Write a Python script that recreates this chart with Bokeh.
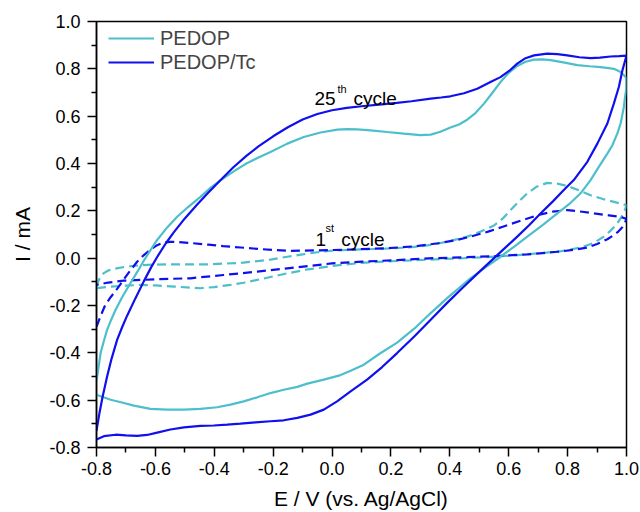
from bokeh.plotting import figure
from bokeh.models import Range1d, Legend, LegendItem, Label, FixedTicker, NumeralTickFormatter
from bokeh.embed import file_html
from bokeh.resources import INLINE

# ---------------- data (E / V vs Ag/AgCl, I / mA) ----------------
# PEDOP/Tc, 25th cycle (solid, blue): forward scan then reverse scan
tc25_E = [-0.80, -0.79, -0.78, -0.764, -0.75, -0.73, -0.713, -0.696, -0.668, -0.639,
          -0.615, -0.594, -0.565, -0.537, -0.50, -0.458, -0.424, -0.381, -0.336, -0.291,
          -0.25, -0.20, -0.15, -0.10, -0.05, 0.0, 0.05, 0.10, 0.16, 0.22,
          0.27, 0.335, 0.37, 0.402, 0.448, 0.493, 0.538, 0.572, 0.606, 0.629,
          0.657, 0.686, 0.731, 0.765, 0.799, 0.84, 0.878, 0.91, 0.946, 0.975, 1.00,
          0.986, 0.974, 0.957, 0.935, 0.901, 0.867, 0.821, 0.787, 0.75, 0.708,
          0.67, 0.629, 0.595, 0.561, 0.50, 0.448, 0.39, 0.335, 0.28, 0.221,
          0.17, 0.119, 0.063, 0.017, -0.028, -0.073, -0.118, -0.164, -0.209, -0.26,
          -0.311, -0.356, -0.402, -0.447, -0.503, -0.549, -0.594, -0.628, -0.662, -0.70,
          -0.735, -0.775, -0.80]
tc25_I = [-0.73, -0.655, -0.59, -0.50, -0.43, -0.345, -0.292, -0.243, -0.17, -0.097,
          -0.04, 0.005, 0.062, 0.11, 0.168, 0.227, 0.272, 0.327, 0.383, 0.432,
          0.472, 0.515, 0.553, 0.586, 0.609, 0.625, 0.635, 0.642, 0.649, 0.656,
          0.663, 0.674, 0.679, 0.684, 0.697, 0.716, 0.744, 0.765, 0.796, 0.822,
          0.845, 0.857, 0.864, 0.862, 0.857, 0.849, 0.845, 0.847, 0.852, 0.854, 0.856,
          0.793, 0.723, 0.653, 0.569, 0.484, 0.407, 0.33, 0.288, 0.24, 0.189,
          0.14, 0.091, 0.052, 0.013, -0.058, -0.12, -0.19, -0.26, -0.33, -0.401,
          -0.46, -0.513, -0.563, -0.605, -0.64, -0.661, -0.675, -0.685, -0.689, -0.694,
          -0.699, -0.703, -0.707, -0.709, -0.715, -0.724, -0.737, -0.747, -0.751, -0.749,
          -0.746, -0.752, -0.766]

# PEDOP, 25th cycle (solid, cyan)
p25_E = [-0.80, -0.793, -0.786, -0.775, -0.764, -0.75, -0.735, -0.713, -0.685, -0.66,
         -0.639, -0.615, -0.594, -0.56, -0.526, -0.49, -0.447, -0.41, -0.368, -0.33,
         -0.291, -0.25, -0.209, -0.152, -0.096, -0.039, 0.018, 0.05, 0.086, 0.131,
         0.187, 0.244, 0.30, 0.335, 0.368, 0.402, 0.431, 0.459, 0.487, 0.516,
         0.544, 0.572, 0.601, 0.629, 0.657, 0.686, 0.715, 0.742, 0.79, 0.833,
         0.875, 0.912, 0.94, 0.957, 0.97, 0.98, 0.99, 1.00,
         1.00, 0.995, 0.991, 0.985, 0.98, 0.969, 0.952, 0.935, 0.906, 0.878,
         0.844, 0.805, 0.765, 0.715, 0.663, 0.62, 0.572, 0.52, 0.47, 0.39,
         0.335, 0.28, 0.221, 0.16, 0.108, 0.063, 0.029, -0.028, -0.084, -0.118,
         -0.164, -0.209, -0.254, -0.30, -0.345, -0.39, -0.447, -0.503, -0.56, -0.617,
         -0.673, -0.707, -0.752, -0.80]
p25_I = [-0.52, -0.46, -0.401, -0.35, -0.303, -0.26, -0.218, -0.165, -0.106, -0.055,
         -0.01, 0.037, 0.077, 0.13, 0.175, 0.215, 0.259, 0.30, 0.338, 0.37,
         0.40, 0.425, 0.449, 0.484, 0.512, 0.531, 0.543, 0.545, 0.544, 0.54,
         0.533, 0.526, 0.52, 0.522, 0.534, 0.552, 0.565, 0.585, 0.613, 0.653,
         0.698, 0.744, 0.784, 0.812, 0.83, 0.839, 0.84, 0.837, 0.826, 0.816,
         0.811, 0.807, 0.803, 0.80, 0.793, 0.786, 0.775, 0.76,
         0.72, 0.68, 0.639, 0.60, 0.569, 0.527, 0.477, 0.442, 0.386, 0.33,
         0.274, 0.228, 0.189, 0.14, 0.091, 0.05, 0.006, -0.04, -0.085, -0.17,
         -0.232, -0.297, -0.357, -0.405, -0.45, -0.476, -0.494, -0.513, -0.53, -0.544,
         -0.556, -0.57, -0.588, -0.605, -0.619, -0.63, -0.637, -0.64, -0.64, -0.637,
         -0.623, -0.612, -0.598, -0.577]

# PEDOP/Tc, 1st cycle (dashed, blue)
tc1_E = [-0.80, -0.787, -0.77, -0.752, -0.73, -0.713, -0.69, -0.662, -0.64, -0.615,
         -0.594, -0.575, -0.55, -0.52, -0.48, -0.42, -0.37, -0.31, -0.25, -0.15,
         -0.04, 0.08, 0.19, 0.28, 0.36, 0.42, 0.47, 0.53, 0.58, 0.64,
         0.70, 0.75, 0.80, 0.85, 0.89, 0.94, 0.98, 1.00,
         0.995, 0.985, 0.97, 0.95, 0.935, 0.90, 0.867, 0.82, 0.765, 0.663,
         0.561, 0.459, 0.346, 0.221, 0.10, 0.0, -0.152, -0.254, -0.368, -0.481,
         -0.594, -0.707, -0.76, -0.80]
tc1_I = [-0.29, -0.247, -0.197, -0.165, -0.13, -0.10, -0.06, -0.015, 0.012, 0.038,
         0.055, 0.065, 0.069, 0.068, 0.064, 0.057, 0.051, 0.045, 0.039, 0.031,
         0.033, 0.037, 0.042, 0.05, 0.063, 0.076, 0.091, 0.112, 0.133, 0.158,
         0.182, 0.197, 0.203, 0.196, 0.189, 0.181, 0.174, 0.166,
         0.15, 0.13, 0.11, 0.092, 0.08, 0.06, 0.045, 0.035, 0.027, 0.016,
         0.009, 0.004, 0.0, -0.008, -0.015, -0.022, -0.043, -0.057, -0.071, -0.085,
         -0.089, -0.095, -0.103, -0.113]

# PEDOP, 1st cycle (dashed, cyan)
p1_E = [-0.80, -0.795, -0.787, -0.775, -0.76, -0.741, -0.70, -0.651, -0.60, -0.537,
        -0.424, -0.311, -0.209, -0.152, -0.10, -0.05, 0.0, 0.10, 0.18, 0.255,
        0.30, 0.346, 0.40, 0.459, 0.50, 0.55, 0.58, 0.606, 0.635, 0.663,
        0.695, 0.731, 0.765, 0.799, 0.84, 0.878, 0.92, 0.957, 1.00,
        0.995, 0.988, 0.969, 0.945, 0.923, 0.89, 0.844, 0.78, 0.708, 0.63,
        0.56, 0.45, 0.35, 0.22, 0.10, 0.0, -0.08, -0.152, -0.254, -0.30,
        -0.345, -0.40, -0.447, -0.537, -0.60, -0.651, -0.70, -0.75, -0.80]
p1_I = [-0.12, -0.10, -0.08, -0.063, -0.052, -0.045, -0.036, -0.03, -0.027, -0.026,
        -0.026, -0.02, -0.006, 0.006, 0.016, 0.025, 0.032, 0.037, 0.04, 0.045,
        0.05, 0.058, 0.072, 0.091, 0.11, 0.138, 0.168, 0.203, 0.24, 0.274,
        0.302, 0.318, 0.315, 0.305, 0.286, 0.266, 0.25, 0.238, 0.224,
        0.205, 0.185, 0.147, 0.115, 0.091, 0.065, 0.045, 0.03, 0.021, 0.013,
        0.007, 0.0, -0.005, -0.012, -0.02, -0.033, -0.047, -0.064, -0.092, -0.104,
        -0.113, -0.122, -0.127, -0.12, -0.115, -0.113, -0.116, -0.12, -0.127]

ticks = [-0.8, -0.6, -0.4, -0.2, 0.0, 0.2, 0.4, 0.6, 0.8, 1.0]
minor = [-0.7, -0.5, -0.3, -0.1, 0.1, 0.3, 0.5, 0.7, 0.9]
series_names = ["PEDOP", "PEDOP/Tc"]

CYAN = "#4DBFCB"
BLUE = "#1010EE"
FONT = "Liberation Sans"

p = figure(width=640, height=512, output_backend="svg", toolbar_location=None,
           x_range=Range1d(-0.8, 1.0), y_range=Range1d(-0.8, 1.0),
           min_border_left=96, min_border_right=14, min_border_top=21,
           min_border_bottom=64, background_fill_color="white")
p.grid.visible = False
p.outline_line_color = "black"
p.outline_line_width = 1.5
p.outline_line_alpha = 1.0

for ax in (p.xaxis[0], p.yaxis[0]):
    ax.ticker = FixedTicker(ticks=ticks, minor_ticks=minor)
    ax.formatter = NumeralTickFormatter(format="0.0")
    ax.major_tick_in = 0
    ax.major_tick_out = 9
    ax.minor_tick_in = 0
    ax.minor_tick_out = 5
    ax.axis_line_width = 1.5
    ax.major_tick_line_width = 1.5
    ax.minor_tick_line_width = 1.5
    ax.major_label_text_font = FONT
    ax.major_label_text_font_size = "18px"
    ax.major_label_text_color = "black"
    ax.axis_label_text_font = FONT
    ax.axis_label_text_font_size = "21px"
    ax.axis_label_text_font_style = "normal"
    ax.axis_label_text_color = "black"

p.xaxis.axis_label = "E / V (vs. Ag/AgCl)"
p.yaxis.axis_label = "I / mA"
p.xaxis.major_label_standoff = 5
p.yaxis.major_label_standoff = 7
p.xaxis.axis_label_standoff = 9
p.yaxis.axis_label_standoff = 12

p.line(p1_E, p1_I, line_color=CYAN, line_width=2.2, line_dash="9 5")
p.line(tc1_E, tc1_I, line_color=BLUE, line_width=2.2, line_dash="9 5")
r1 = p.line(p25_E, p25_I, line_color=CYAN, line_width=2.2)
r2 = p.line(tc25_E, tc25_I, line_color=BLUE, line_width=2.2)

legend = Legend(items=[LegendItem(label=series_names[0], renderers=[r1]),
                       LegendItem(label=series_names[1], renderers=[r2])],
                location=(6, 367), margin=0, padding=6, spacing=0,
                glyph_width=46, glyph_height=24, label_height=24,
                label_standoff=6, label_text_font=FONT, label_text_font_size="20px",
                background_fill_alpha=0, border_line_alpha=0)
p.add_layout(legend)


def lab(x, y, t, size):
    p.add_layout(Label(x=x, y=y, text=t, text_font=FONT, text_font_size=size,
                       text_baseline="alphabetic", text_color="black"))


lab(-0.0595, 0.674, "25", "19px")
lab(0.0186, 0.716, "th", "11px")
lab(0.073, 0.674, "cycle", "19px")
lab(-0.056, 0.077, "1", "19px")
lab(-0.022, 0.126, "st", "11px")
lab(0.031, 0.077, "cycle", "19px")

open("out.html", "w").write(file_html(p, INLINE))
